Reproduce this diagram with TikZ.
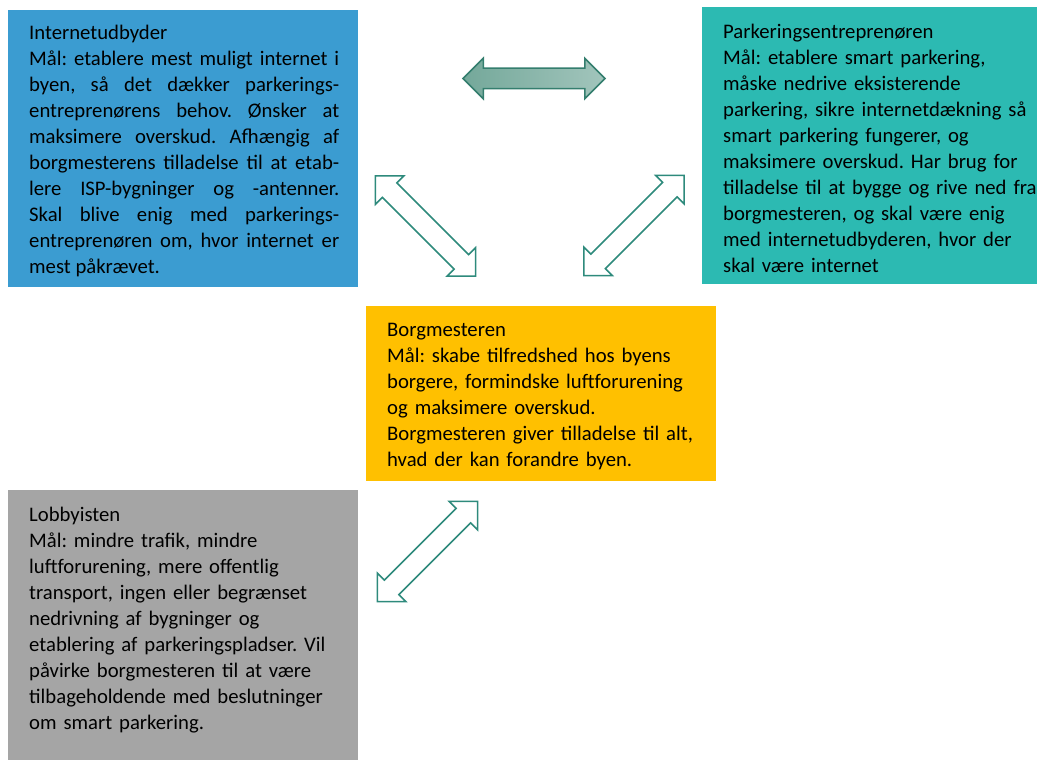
\documentclass[tikz,border=0pt]{standalone}
\usepackage{fontspec}
\setmainfont{Carlito}
\frenchspacing
\usepackage{tikz}
\usetikzlibrary{shapes.arrows}
\definecolor{ispblue}{RGB}{59,156,209}
\definecolor{parkteal}{RGB}{44,186,178}
\definecolor{mayoramber}{RGB}{255,192,0}
\definecolor{lobbygray}{RGB}{165,165,165}
\definecolor{linkteal}{RGB}{46,138,124}
\definecolor{linkedge}{RGB}{52,126,110}
\definecolor{linkdark}{RGB}{116,168,154}
\definecolor{linklight}{RGB}{162,197,188}
\tikzstyle{actor} = [rectangle, anchor=north west, inner sep=0pt]
\tikzstyle{actortext} = [anchor=base west, inner sep=0pt, font=\fontsize{20.7}{26}\selectfont]
\tikzstyle{dblarrow} = [double arrow, double arrow head extend=10pt, double arrow head indent=0pt, inner xsep=0pt, inner ysep=9.5pt, minimum height=142pt, line width=1.5pt, draw=linkteal, fill=white]

\begin{document}
\begin{tikzpicture}[x=1pt, y=-1pt]
		\useasboundingbox (0,0) rectangle (1037,760);
		% the four actors
		\node (isp) [actor, fill=ispblue, minimum width=350pt, minimum height=277pt] at (8,10) {};
		\node (park) [actor, fill=parkteal, minimum width=335pt, minimum height=277pt] at (702,7) {};
		\node (mayor) [actor, fill=mayoramber, minimum width=350pt, minimum height=175pt] at (366,306) {};
		\node (lobby) [actor, fill=lobbygray, minimum width=350pt, minimum height=270pt] at (8,490) {};
		\node (isptext) [actortext, text width=310pt, align=justify] at ([shift={(21,30)}]isp.north west) {Internetudbyder\\
			Mål: etablere mest muligt internet i\linebreak
			byen, så det dækker parkerings-\linebreak
			entreprenørens behov. Ønsker at\linebreak
			maksimere overskud. Afhængig af\linebreak
			borgmesterens tilladelse til at etab-\linebreak
			lere ISP-bygninger og -antenner.\linebreak
			Skal blive enig med parkerings-\linebreak
			entreprenøren om, hvor internet er\linebreak
			mest påkrævet.};
		\node (parktext) [actortext, text width=340pt, align=left] at ([shift={(21,32)}]park.north west) {Parkeringsentreprenøren\\
			Mål: etablere smart parkering,\\
			måske nedrive eksisterende\\
			parkering, sikre internetdækning så\\
			smart parkering fungerer, og\\
			maksimere overskud. Har brug for\\
			tilladelse til at bygge og rive ned fra\\
			borgmesteren, og skal være enig\\
			med internetudbyderen, hvor der\\
			skal være internet};
		\node (mayortext) [actortext, text width=325pt, align=left] at ([shift={(21,30)}]mayor.north west) {Borgmesteren\\
			Mål: skabe tilfredshed hos byens\\
			borgere, formindske luftforurening\\
			og maksimere overskud.\\
			Borgmesteren giver tilladelse til alt,\\
			hvad der kan forandre byen.};
		\node (lobbytext) [actortext, text width=325pt, align=left] at ([shift={(21,31)}]lobby.north west) {Lobbyisten\\
			Mål: mindre trafik, mindre\\
			luftforurening, mere offentlig\\
			transport, ingen eller begrænset\\
			nedrivning af bygninger og\\
			etablering af parkeringspladser. Vil\\
			påvirke borgmesteren til at være\\
			tilbageholdende med beslutninger\\
			om smart parkering.};
		% the links between them
		\node (linktop) [dblarrow, draw=linkedge, left color=linkdark, right color=linklight] at (534,78.5) {};
		\node (linkisp) [dblarrow, rotate=-45] at (425.5,226) {};
		\node (linkpark) [dblarrow, rotate=45] at (634,225.5) {};
		\node (linklobby) [dblarrow, rotate=45] at (427.5,551.5) {};
\end{tikzpicture}
\end{document}
